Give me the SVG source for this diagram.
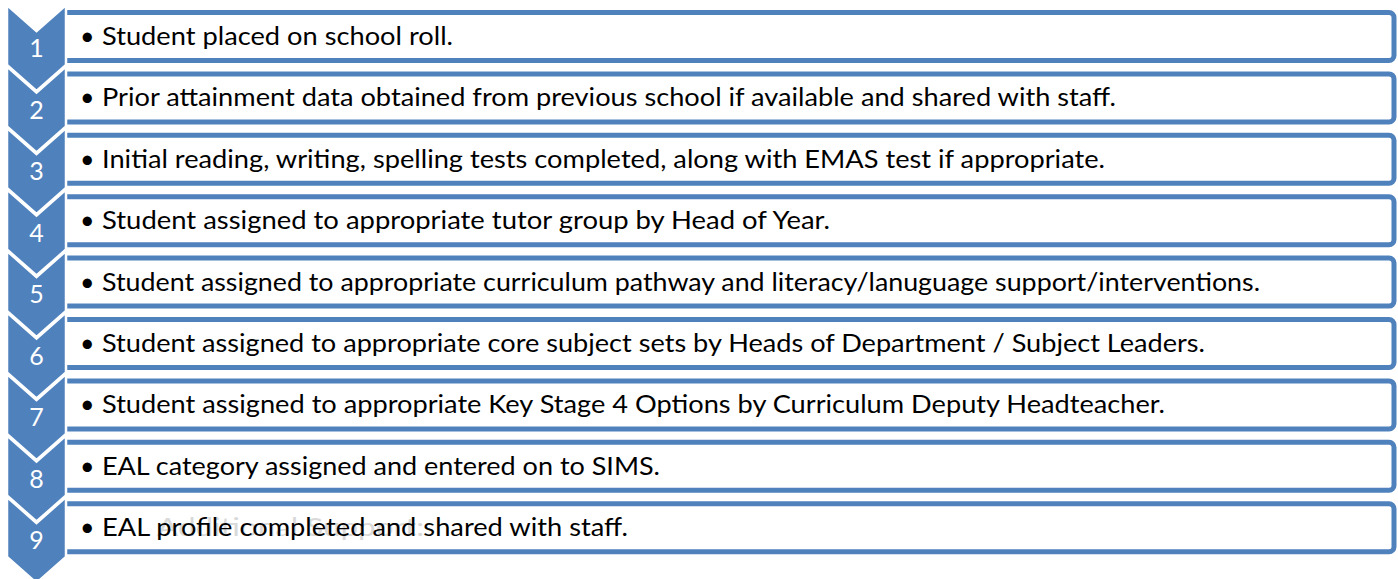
<svg xmlns="http://www.w3.org/2000/svg" width="1398" height="579" viewBox="0 0 1398 579">
<style>
.box{fill:#ffffff;stroke:#4f81bd;stroke-width:5}
.chev{fill:#4f81bd;stroke:#ffffff;stroke-width:2.5;stroke-linejoin:miter}
.num{font-family:"Gill Sans MT","Gill Sans",Lato,"Open Sans",sans-serif;font-size:25px;fill:#ffffff;text-anchor:middle}
.txt{font-family:"Gill Sans MT","Gill Sans",Lato,"Open Sans",sans-serif;font-size:25px;fill:#000000}
.wm{font-family:"Gill Sans MT","Gill Sans",Lato,"Open Sans",sans-serif;font-size:25px;fill:#d9d9d9}
</style>
<rect width="1398" height="579" fill="#ffffff"/>
<g id="boxes">
<g id="box1"><rect class="box" x="60" y="12.5" width="1334" height="48" rx="5"/><text class="txt" y="45"><tspan x="80">• </tspan><tspan x="102" textLength="351" lengthAdjust="spacingAndGlyphs">Student placed on school roll.</tspan></text></g>
<g id="box2"><rect class="box" x="60" y="73.9" width="1334" height="48" rx="5"/><text class="txt" y="106.4"><tspan x="80">• </tspan><tspan x="102" textLength="1014" lengthAdjust="spacingAndGlyphs">Prior attainment data obtained from previous school if available and shared with staff.</tspan></text></g>
<g id="box3"><rect class="box" x="60" y="135.3" width="1334" height="48" rx="5"/><text class="txt" y="167.8"><tspan x="80">• </tspan><tspan x="102" textLength="1003" lengthAdjust="spacingAndGlyphs">Initial reading, writing, spelling tests completed, along with EMAS test if appropriate.</tspan></text></g>
<g id="box4"><rect class="box" x="60" y="196.7" width="1334" height="48" rx="5"/><text class="txt" y="229.2"><tspan x="80">• </tspan><tspan x="102" textLength="728" lengthAdjust="spacingAndGlyphs">Student assigned to appropriate tutor group by Head of Year.</tspan></text></g>
<g id="box5"><rect class="box" x="60" y="258.1" width="1334" height="48" rx="5"/><text class="txt" y="290.6"><tspan x="80">• </tspan><tspan x="102" textLength="1158" lengthAdjust="spacingAndGlyphs">Student assigned to appropriate curriculum pathway and literacy/lanuguage support/interventions.</tspan></text></g>
<g id="box6"><rect class="box" x="60" y="319.5" width="1334" height="48" rx="5"/><text class="txt" y="352"><tspan x="80">• </tspan><tspan x="102" textLength="1103" lengthAdjust="spacingAndGlyphs">Student assigned to appropriate core subject sets by Heads of Department / Subject Leaders.</tspan></text></g>
<g id="box7"><rect class="box" x="60" y="380.9" width="1334" height="48" rx="5"/><text class="txt" y="413.4"><tspan x="80">• </tspan><tspan x="102" textLength="1063" lengthAdjust="spacingAndGlyphs">Student assigned to appropriate Key Stage 4 Options by Curriculum Deputy Headteacher.</tspan></text></g>
<g id="box8"><rect class="box" x="60" y="442.3" width="1334" height="48" rx="5"/><text class="txt" y="474.8"><tspan x="80">• </tspan><tspan x="102" textLength="558" lengthAdjust="spacingAndGlyphs">EAL category assigned and entered on to SIMS.</tspan></text></g>
<g id="box9"><rect class="box" x="60" y="503.7" width="1334" height="48" rx="5"/><text class="wm" x="157" y="536.2" textLength="267" lengthAdjust="spacingAndGlyphs">Additional Support:</text><text class="txt" y="536.2"><tspan x="80">• </tspan><tspan x="102" textLength="526" lengthAdjust="spacingAndGlyphs">EAL profile completed and shared with staff.</tspan></text></g>
</g>
<g id="chevrons">
<g id="chev1"><path class="chev" d="M7,5 L36.5,31 L66,5 L66,65 L36.5,91 L7,65 Z"/><text class="num" x="36.5" y="57">1</text></g>
<g id="chev2"><path class="chev" d="M7,66.5 L36.5,92.5 L66,66.5 L66,126.5 L36.5,152.5 L7,126.5 Z"/><text class="num" x="36.5" y="118.5">2</text></g>
<g id="chev3"><path class="chev" d="M7,128 L36.5,154 L66,128 L66,188 L36.5,214 L7,188 Z"/><text class="num" x="36.5" y="180">3</text></g>
<g id="chev4"><path class="chev" d="M7,189.5 L36.5,215.5 L66,189.5 L66,249.5 L36.5,275.5 L7,249.5 Z"/><text class="num" x="36.5" y="241.5">4</text></g>
<g id="chev5"><path class="chev" d="M7,251 L36.5,277 L66,251 L66,311 L36.5,337 L7,311 Z"/><text class="num" x="36.5" y="303">5</text></g>
<g id="chev6"><path class="chev" d="M7,312.5 L36.5,338.5 L66,312.5 L66,372.5 L36.5,398.5 L7,372.5 Z"/><text class="num" x="36.5" y="364.5">6</text></g>
<g id="chev7"><path class="chev" d="M7,374 L36.5,400 L66,374 L66,434 L36.5,460 L7,434 Z"/><text class="num" x="36.5" y="426">7</text></g>
<g id="chev8"><path class="chev" d="M7,435.5 L36.5,461.5 L66,435.5 L66,495.5 L36.5,521.5 L7,495.5 Z"/><text class="num" x="36.5" y="487.5">8</text></g>
<g id="chev9"><path class="chev" d="M7,497 L36.5,523 L66,497 L66,557 L36.5,583 L7,557 Z"/><text class="num" x="36.5" y="549">9</text></g>
</g>
</svg>
